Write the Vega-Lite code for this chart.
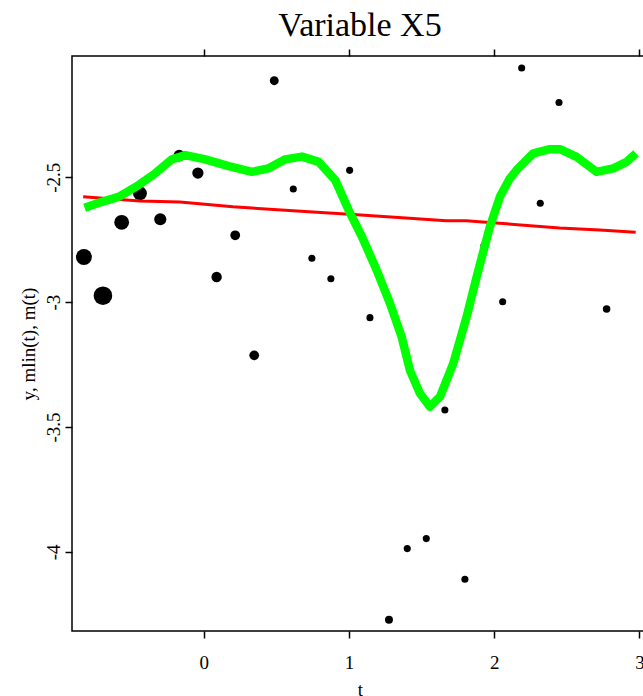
{
  "$schema": "https://vega.github.io/schema/vega-lite/v6.json",
  "autosize": {"type": "none"},
  "padding": {"left": 72, "top": 56, "right": -5, "bottom": 65},
  "width": 576,
  "height": 575,
  "background": "white",
  "config": {
    "font": "Liberation Serif",
    "view": {"stroke": "black", "strokeWidth": 1.5},
    "axis": {"grid": false, "domain": false, "tickColor": "black", "tickWidth": 1.5, "tickSize": 7, "labelColor": "black", "titleColor": "black", "labelFont": "Liberation Serif", "titleFont": "Liberation Serif", "labelFontSize": 19, "titleFontSize": 19, "titleFontWeight": "normal"}
  },
  "title": {"text": "Variable X5", "font": "Liberation Serif", "fontSize": 34, "fontWeight": "normal", "color": "black", "baseline": "alphabetic", "offset": -22, "anchor": "middle"},
  "datasets": {
    "points": [
      {"t": -0.826, "y": -2.819, "w": 3.24},
      {"t": -0.695, "y": -2.974, "w": 4.41},
      {"t": -0.566, "y": -2.680, "w": 2.79},
      {"t": -0.440, "y": -2.564, "w": 2.46},
      {"t": -0.300, "y": -2.668, "w": 1.88},
      {"t": -0.169, "y": -2.413, "w": 1.69},
      {"t": -0.041, "y": -2.483, "w": 1.61},
      {"t": 0.088, "y": -2.899, "w": 1.37},
      {"t": 0.216, "y": -2.732, "w": 1.21},
      {"t": 0.347, "y": -3.213, "w": 1.21},
      {"t": 0.485, "y": -2.113, "w": 1.0},
      {"t": 0.616, "y": -2.547, "w": 0.64},
      {"t": 0.744, "y": -2.824, "w": 0.64},
      {"t": 0.875, "y": -2.906, "w": 0.64},
      {"t": 1.004, "y": -2.472, "w": 0.64},
      {"t": 1.144, "y": -3.062, "w": 0.64},
      {"t": 1.275, "y": -4.272, "w": 0.81},
      {"t": 1.401, "y": -3.987, "w": 0.64},
      {"t": 1.532, "y": -3.947, "w": 0.64},
      {"t": 1.660, "y": -3.432, "w": 0.64},
      {"t": 1.798, "y": -4.110, "w": 0.64},
      {"t": 1.929, "y": -2.774, "w": 0.64},
      {"t": 2.058, "y": -2.998, "w": 0.64},
      {"t": 2.189, "y": -2.062, "w": 0.64},
      {"t": 2.317, "y": -2.604, "w": 0.64},
      {"t": 2.446, "y": -2.200, "w": 0.64},
      {"t": 2.774, "y": -3.027, "w": 0.72}
    ],
    "lin": [
      {"t": -0.831, "m": -2.578},
      {"t": -0.440, "m": -2.595},
      {"t": -0.165, "m": -2.599},
      {"t": 0.200, "m": -2.618},
      {"t": 0.751, "m": -2.639},
      {"t": 1.004, "m": -2.648},
      {"t": 1.417, "m": -2.664},
      {"t": 1.669, "m": -2.674},
      {"t": 1.807, "m": -2.674},
      {"t": 2.037, "m": -2.684},
      {"t": 2.450, "m": -2.703},
      {"t": 2.726, "m": -2.711},
      {"t": 2.974, "m": -2.720}
    ],
    "smooth": [
      {"t": -0.821, "m": -2.622},
      {"t": -0.702, "m": -2.598},
      {"t": -0.587, "m": -2.578},
      {"t": -0.449, "m": -2.531},
      {"t": -0.335, "m": -2.484},
      {"t": -0.220, "m": -2.428},
      {"t": -0.128, "m": -2.411},
      {"t": 0.010, "m": -2.428},
      {"t": 0.171, "m": -2.455},
      {"t": 0.331, "m": -2.478},
      {"t": 0.446, "m": -2.464},
      {"t": 0.561, "m": -2.428},
      {"t": 0.676, "m": -2.417},
      {"t": 0.791, "m": -2.438},
      {"t": 0.905, "m": -2.511},
      {"t": 0.997, "m": -2.631},
      {"t": 1.089, "m": -2.738},
      {"t": 1.190, "m": -2.871},
      {"t": 1.282, "m": -3.005},
      {"t": 1.362, "m": -3.138},
      {"t": 1.419, "m": -3.272},
      {"t": 1.488, "m": -3.365},
      {"t": 1.557, "m": -3.419},
      {"t": 1.626, "m": -3.379},
      {"t": 1.718, "m": -3.245},
      {"t": 1.810, "m": -3.058},
      {"t": 1.879, "m": -2.898},
      {"t": 1.970, "m": -2.698},
      {"t": 2.039, "m": -2.578},
      {"t": 2.108, "m": -2.504},
      {"t": 2.154, "m": -2.471},
      {"t": 2.269, "m": -2.404},
      {"t": 2.384, "m": -2.387},
      {"t": 2.452, "m": -2.387},
      {"t": 2.567, "m": -2.418},
      {"t": 2.705, "m": -2.478},
      {"t": 2.820, "m": -2.464},
      {"t": 2.912, "m": -2.438},
      {"t": 2.976, "m": -2.404}
    ]
  },
  "layer": [
    {
      "data": {"name": "points"},
      "mark": {"type": "point", "filled": true, "color": "black", "opacity": 1, "strokeWidth": 0},
      "encoding": {
        "x": {"field": "t", "type": "quantitative", "scale": {"domain": [-0.908, 3.059], "nice": false, "zero": false},
              "axis": {"orient": "bottom", "values": [0, 1, 2, 3], "labelBaseline": "alphabetic", "labelPadding": 30, "title": "t", "titleBaseline": "alphabetic", "titleY": 64}},
        "y": {"field": "y", "type": "quantitative", "scale": {"domain": [-4.317, -2.014], "nice": false, "zero": false},
              "axis": {"orient": "left", "values": [-4, -3.5, -3, -2.5], "labelExpr": "'-' + format(abs(datum.value), '~g')", "labelAngle": -90, "labelAlign": "center", "labelBaseline": "alphabetic", "labelPadding": 5.5, "title": "y, mlin(t), m(t)", "titleAngle": -90, "titleAlign": "center", "titleBaseline": "alphabetic", "titleX": -37.5}},
        "size": {"field": "w", "type": "quantitative", "scale": {"domain": [0, 5], "range": [0, 392.7], "zero": true}, "legend": null}
      }
    },
    {
      "data": {"name": "lin"},
      "mark": {"type": "line", "color": "#FF0000", "strokeWidth": 3},
      "encoding": {
        "x": {"field": "t", "type": "quantitative", "axis": {"orient": "top", "values": [0, 1, 2, 3], "labels": false, "title": null}},
        "y": {"field": "m", "type": "quantitative"}
      }
    },
    {
      "data": {"name": "smooth"},
      "mark": {"type": "line", "color": "#00FF00", "strokeWidth": 8.5, "strokeJoin": "round"},
      "encoding": {
        "x": {"field": "t", "type": "quantitative", "axis": null},
        "y": {"field": "m", "type": "quantitative"}
      }
    }
  ],
  "resolve": {"axis": {"x": "independent"}}
}
